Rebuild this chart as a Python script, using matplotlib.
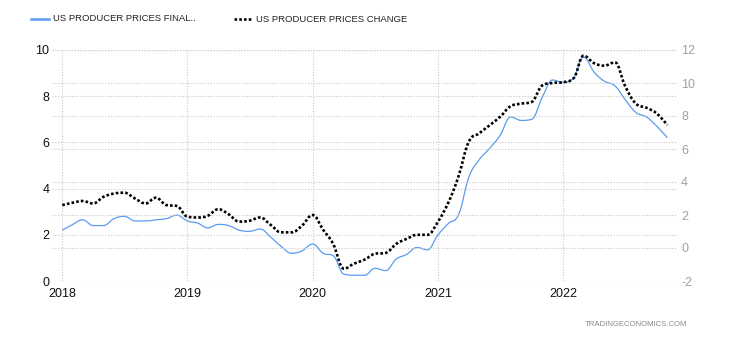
import numpy as np
import pandas as pd
import matplotlib
matplotlib.use("Agg")
import matplotlib.pyplot as plt
import matplotlib.dates as mdates
from matplotlib.path import Path
from matplotlib.patches import PathPatch
from matplotlib.lines import Line2D

plt.rcParams['font.family'] = ['Liberation Sans', 'DejaVu Sans']

# ---- data (monthly, Jan 2018 - Nov 2022) ----
months = pd.date_range('2018-01-01', periods=59, freq='MS')
final_demand_core = [
    2.2, 2.45, 2.65, 2.4, 2.4, 2.7, 2.8, 2.6, 2.6, 2.65, 2.7, 2.85,
    2.6, 2.5, 2.3, 2.45, 2.4, 2.2, 2.15, 2.25, 1.9, 1.5, 1.2, 1.3,
    1.6, 1.2, 1.1, 0.3, 0.25, 0.25, 0.55, 0.45, 0.95, 1.15, 1.45, 1.35,
    2.0, 2.5, 2.85, 4.5, 5.25, 5.75, 6.3, 7.1, 6.95, 7.0, 7.95, 8.7,
    8.6, 8.8, 9.7, 9.05, 8.65, 8.45, 7.85, 7.3, 7.1, 6.7, 6.2,
]
ppi_change = [
    2.6, 2.75, 2.85, 2.7, 3.1, 3.3, 3.35, 3.0, 2.7, 3.05, 2.6, 2.55,
    1.9, 1.85, 1.95, 2.35, 2.05, 1.6, 1.65, 1.85, 1.4, 0.95, 0.95, 1.35,
    2.0, 1.1, 0.25, -1.25, -0.95, -0.7, -0.35, -0.3, 0.25, 0.55, 0.8, 0.8,
    1.6, 2.8, 4.3, 6.45, 6.95, 7.45, 7.95, 8.6, 8.75, 8.85, 9.85, 10.0,
    10.05, 10.3, 11.65, 11.2, 11.05, 11.25, 9.8, 8.75, 8.5, 8.15, 7.45,
]
left_ticks = [0, 2, 4, 6, 8, 10]
right_ticks = [-2, 0, 2, 4, 6, 8, 10, 12]
year_ticks = ['2018', '2019', '2020', '2021', '2022']
legend_labels = ['US PRODUCER PRICES FINAL..', 'US PRODUCER PRICES CHANGE']

BLUE = '#5b9bf0'


def spline_path(x, y, smoothing=1.5):
    """Smooth curve through the data points (Highcharts-style spline)."""
    x = np.asarray(x, float)
    y = np.asarray(y, float)
    n = len(x)
    lc = [(x[i], y[i]) for i in range(n)]
    rc = [(x[i], y[i]) for i in range(n)]
    d = smoothing + 1
    for i in range(1, n - 1):
        lx = (smoothing * x[i] + x[i - 1]) / d
        ly = (smoothing * y[i] + y[i - 1]) / d
        rx = (smoothing * x[i] + x[i + 1]) / d
        ry = (smoothing * y[i] + y[i + 1]) / d
        if rx != lx:
            corr = (ry - ly) * (rx - x[i]) / (rx - lx) + y[i] - ry
            ly += corr
            ry += corr
        if ly > max(y[i - 1], y[i]):
            ly = max(y[i - 1], y[i]); ry = 2 * y[i] - ly
        elif ly < min(y[i - 1], y[i]):
            ly = min(y[i - 1], y[i]); ry = 2 * y[i] - ly
        if ry > max(y[i + 1], y[i]):
            ry = max(y[i + 1], y[i]); ly = 2 * y[i] - ry
        elif ry < min(y[i + 1], y[i]):
            ry = min(y[i + 1], y[i]); ly = 2 * y[i] - ry
        lc[i] = (lx, ly)
        rc[i] = (rx, ry)
    verts = [(x[0], y[0])]
    codes = [Path.MOVETO]
    for i in range(1, n):
        verts += [rc[i - 1], lc[i], (x[i], y[i])]
        codes += [Path.CURVE4] * 3
    return Path(verts, codes)


xnum = mdates.date2num(months)

fig = plt.figure(figsize=(7.3, 3.4), dpi=100)
ax = fig.add_axes([52 / 730, 1 - 281 / 340, (677 - 52) / 730, (281 - 50) / 340])
ax2 = ax.twinx()

x0 = mdates.date2num(pd.Timestamp('2018-01-01')) - 30
x1 = mdates.date2num(pd.Timestamp('2022-01-01')) + 332
ax.set_xlim(x0, x1)
ax.set_ylim(0, 10)
ax2.set_ylim(-2, 12)

ax.add_patch(PathPatch(spline_path(xnum, final_demand_core), fill=False,
                       edgecolor=BLUE, lw=0.9, zorder=3))
ax2.add_patch(PathPatch(spline_path(xnum, ppi_change), fill=False,
                        edgecolor='black', lw=1.9, linestyle=(0, (1, 0.8)),
                        capstyle='butt', zorder=3))

# ticks
ax.set_yticks(left_ticks)
ax.set_yticklabels([str(t) for t in left_ticks])
ax2.set_yticks(right_ticks)
ax2.set_yticklabels([str(t) for t in right_ticks])
ax.set_xticks([mdates.date2num(pd.Timestamp(f'{y}-01-01')) for y in year_ticks])
ax.set_xticklabels(year_ticks)

ax.tick_params(axis='y', length=0, pad=2, labelsize=9, labelcolor='#111111')
ax.tick_params(axis='x', length=0, pad=5, labelsize=9, labelcolor='#111111')
ax2.tick_params(axis='y', length=0, pad=3, labelsize=9, labelcolor='#a0a0a0')

grid_kw = dict(color='#c8c8c8', linestyle=(0, (1, 1.5)), linewidth=0.8)
ax.grid(True, axis='both', **grid_kw)
ax2.grid(True, axis='y', **grid_kw)
ax.set_axisbelow(True)

for a in (ax, ax2):
    for s in a.spines.values():
        s.set_visible(False)
    a.patch.set_visible(False)

# legend
fig.add_artist(Line2D([31 / 730, 49 / 730], [1 - 18.5 / 340] * 2,
                      transform=fig.transFigure, color=BLUE, lw=1.8))
fig.text(53 / 730, 1 - 18.5 / 340, legend_labels[0], fontsize=6.8,
         color='#222222', va='center', ha='left')
fig.add_artist(Line2D([234 / 730, 252 / 730], [1 - 19 / 340] * 2,
                      transform=fig.transFigure, color='black', lw=1.9,
                      linestyle=(0, (1, 0.8))))
fig.text(256 / 730, 1 - 19 / 340, legend_labels[1], fontsize=6.8,
         color='#222222', va='center', ha='left')

fig.text(687 / 730, 1 - 325 / 340, 'TRADINGECONOMICS.COM', fontsize=5.6,
         color='#8a8a8a', va='center', ha='right')

fig.savefig('out.png', dpi=100)
